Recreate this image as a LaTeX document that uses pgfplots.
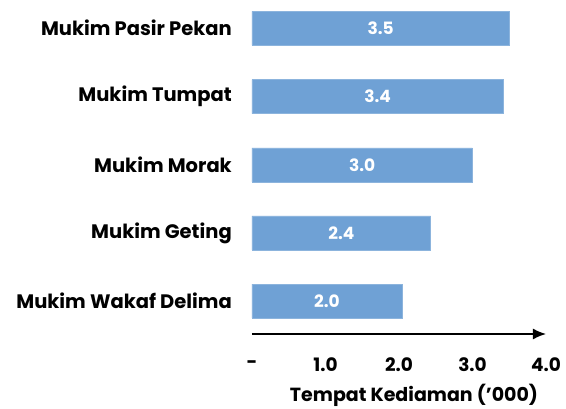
\documentclass[border=0pt]{standalone}
\usepackage{pgfplots}
\pgfplotsset{compat=1.18}
\usepackage{fontspec}
\setmainfont{Poppins}
\usetikzlibrary{arrows.meta}
\definecolor{barblue}{RGB}{111,161,213}
\begin{document}
\begin{tikzpicture}[x=1pt,y=1pt]
\useasboundingbox (0,0) rectangle (566,409);
\begin{axis}[
  at={(252pt,75pt)}, anchor=south west,
  scale only axis, width=294pt, height=326pt,
  xmin=0, xmax=4, ymin=-0.48, ymax=4.297,
  xbar, bar width=34pt,
  axis x line=bottom, axis y line=left,
  y axis line style={draw=none},
  x axis line style={line width=1.6pt, -{Latex[length=13pt,width=11pt]}},
  major tick length=0pt,
  xtick={0,1,2,3,4}, xticklabels={-,1.0,2.0,3.0,4.0},
  ytick={0,1,2,3,4},
  yticklabels={Mukim Wakaf Delima,Mukim Geting,Mukim Morak,Mukim Tumpat,Mukim Pasir Pekan},
  xticklabel style={font=\fontsize{18.5}{20}\selectfont\bfseries, anchor=center, yshift=-31pt},
  yticklabel style={font=\fontsize{19.5}{21}\selectfont\bfseries, anchor=east, inner sep=0pt, xshift=-20pt},
  xlabel={Tempat Kediaman ('000)},
  xlabel style={font=\fontsize{19}{21}\selectfont\bfseries, at={(axis description cs:0.551,0)}, anchor=center, yshift=-61pt},
]
\addplot[fill=barblue, draw=barblue!80!white,
  visualization depends on=rawx \as \rawx,
  nodes near coords, point meta=explicit symbolic,
  nodes near coords style={font=\fontsize{17}{19}\selectfont\bfseries, text=white, anchor=center, shift={(axis direction cs:-\rawx/2,0)}}]
  table[meta=lab] {
x y lab
2.04 0 2.0
2.43 1 2.4
3.00 2 3.0
3.42 3 3.4
3.50 4 3.5
};
\end{axis}
\end{tikzpicture}
\end{document}
